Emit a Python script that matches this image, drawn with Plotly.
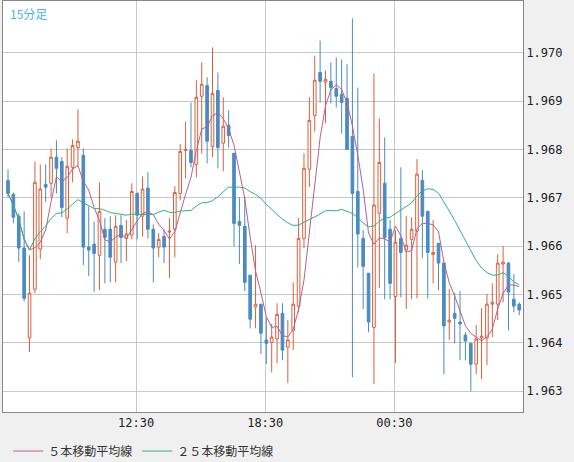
import plotly.graph_objects as go
import pandas as pd

# pixel-read values converted to price below
Y0, PX = 52.3, 48.4  # helper for reading: price = 1.970 - (y-Y0)/PX*0.001
raw = [  # open_y, close_y, high_y, low_y  (pixel rows)
(180,193,169,197),(194,217,192,223),(216,248,213,262),(248,298,211,301),(338,293,255,352),
(289,182,161,293),(249,189,164,259),(184,187,164,202),(183,157,148,197),(157,168,140,193),
(161,207,157,217),(218,166,148,233),(167,145,139,182),(147,141,109,166),(155,247,148,265),
(247,250,206,276),(244,253,221,292),(255,211,182,290),(229,237,218,283),(229,257,216,282),
(262,226,215,282),(225,237,215,263),(238,234,220,261),(235,191,183,239),(193,215,192,239),
(216,189,176,236),(188,229,172,238),(229,248,224,282),(247,239,233,257),(236,247,229,263),
(232,231,218,278),(229,192,186,257),(193,151,144,200),(150,149,121,178),(150,162,102,167),
(164,97,80,177),(96,84,62,153),(85,141,77,163),(146,93,47,157),(90,147,72,168),
(143,126,97,171),(125,135,110,147),(153,223,153,246),(221,225,197,264),(226,282,197,291),
(275,319,275,328),(307,304,245,328),(304,333,304,354),(340,343,318,364),(342,337,324,372),
(339,314,303,363),(313,350,303,360),(347,340,320,383),(330,304,282,350),(306,238,218,312),
(238,168,153,248),(169,120,97,187),(115,80,55,131),(72,81,40,102),(82,79,70,123),
(81,87,62,103),(88,96,57,107),(94,102,59,133),(98,149,64,149),(136,193,18,377),
(191,234,87,267),(238,266,230,309),(273,322,273,332),(327,205,73,384),(213,162,118,288),
(183,237,137,299),(229,283,220,299),(296,242,230,363),(238,252,167,297),(250,245,216,309),
(239,229,217,299),(231,174,159,298),(180,216,170,258),(211,252,211,298),(254,252,220,283),
(243,263,243,290),(263,326,263,374),(322,320,289,340),(313,318,293,343),(322,324,291,360),
(335,341,332,360),(343,364,343,391),(364,339,325,374),(338,336,308,379),(338,304,294,365),
(304,302,283,337),(304,263,254,320),(264,262,246,302),(263,292,262,330),(299,306,274,312),
(304,310,302,315),
]
def p(y):
    return round(1.970 - (y - Y0) / PX * 0.001, 5)
opens = [p(r[0]) for r in raw]
closes = [p(r[1]) for r in raw]
highs = [p(r[2]) for r in raw]
lows = [p(r[3]) for r in raw]
idx = list(range(len(raw)))

tick_vals = [23.8, 47.8, 71.8]
tick_text = ["12:30", "18:30", "00:30"]
y_ticks = [1.963, 1.964, 1.965, 1.966, 1.967, 1.968, 1.969, 1.970]
y_text = ["1.963", "1.964", "1.965", "1.966", "1.967", "1.968", "1.969", "1.970"]

s = pd.Series(closes)
ma5 = s.rolling(5, min_periods=1).mean()
ma25 = s.rolling(25, min_periods=1).mean()

RED, BLUE = "#d9603b", "#4a8bc2"
fig = go.Figure()
fig.add_trace(go.Candlestick(
    x=idx, open=opens, high=highs, low=lows, close=closes,
    increasing=dict(line=dict(color=RED, width=1), fillcolor="white"),
    decreasing=dict(line=dict(color=BLUE, width=1), fillcolor=BLUE),
    whiskerwidth=0, showlegend=False, hoverinfo="skip"))
fig.add_trace(go.Scatter(x=idx, y=ma5, mode="lines", name="５本移動平均線",
                         line=dict(color="#b5608f", width=1)))
fig.add_trace(go.Scatter(x=idx, y=ma25, mode="lines", name="２５本移動平均線",
                         line=dict(color="#2fb27a", width=1)))

fig.update_layout(
    width=574, height=462,
    margin=dict(l=3, r=51, t=1, b=50, autoexpand=False),
    paper_bgcolor="#f0f0f0", plot_bgcolor="white",
    font=dict(family="DejaVu Sans Mono", size=12, color="#222"),
    showlegend=True,
    legend=dict(orientation="h", x=0.01, y=-0.095, xanchor="left", yanchor="middle",
                bgcolor="rgba(0,0,0,0)", font=dict(family="Noto Sans CJK JP", size=12, color="#333"),
                tracegroupgap=0),
    xaxis=dict(range=[-0.93, 95.7], tickvals=tick_vals, ticktext=tick_text, automargin=False,
               showgrid=True, gridcolor="#c8c8c8", rangeslider=dict(visible=False),
               showline=True, linecolor="#888", mirror=True, ticks="", zeroline=False),
    yaxis=dict(range=[1.96257, 1.97107], side="right", tickvals=y_ticks, ticktext=y_text,
               automargin=False,
               showgrid=True, gridcolor="#c8c8c8", showline=True, linecolor="#888",
               mirror=True, ticks="", zeroline=False, tickfont=dict(size=12)),
    annotations=[dict(text="15分足", xref="paper", yref="paper", x=0.01, y=0.995,
                      xanchor="left", yanchor="top", showarrow=False,
                      font=dict(family="Noto Sans CJK JP", size=12, color="#3cb8ea"))],
)
fig.write_html("out.html", config={"displayModeBar": False},
               post_script="document.body.style.margin='0';document.body.style.overflow='hidden';")
